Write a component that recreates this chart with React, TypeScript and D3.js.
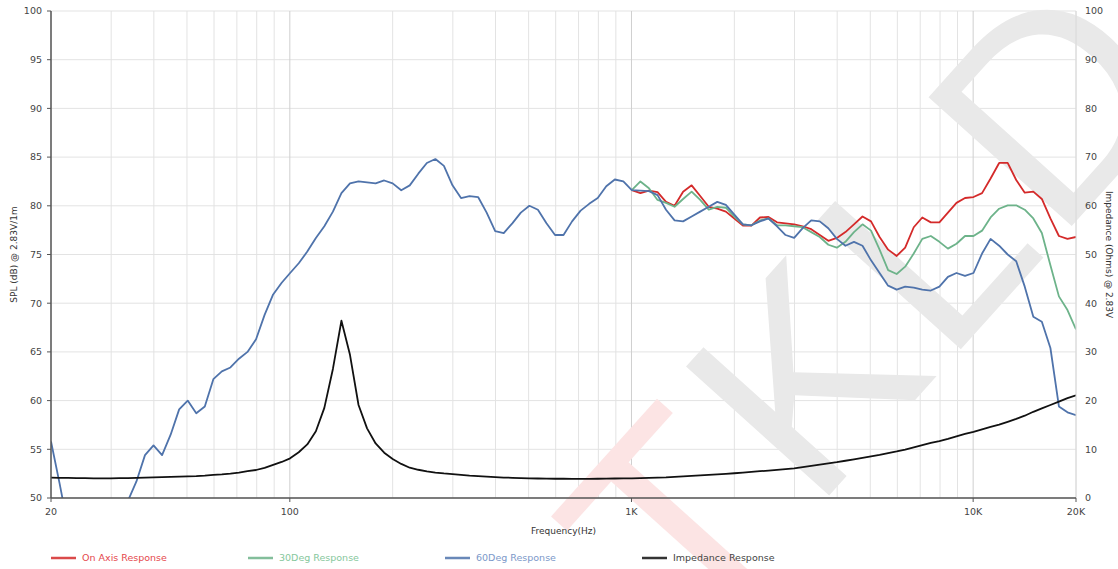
import * as d3 from "d3";

// 1/40-decade measurement points, 20 Hz .. 20 kHz
const freqs = [
  20, 21.19, 22.44, 23.77, 25.18, 26.67, 28.25, 29.93, 31.7, 33.58,
  35.57, 37.68, 39.91, 42.28, 44.79, 47.44, 50.25, 53.23, 56.39, 59.73,
  63.25, 67.01, 70.98, 75.19, 79.65, 84.37, 89.37, 94.67, 100.2, 106.2,
  112.5, 119.2, 126.2, 133.7, 141.6, 150, 158.9, 168.3, 178.3, 188.9,
  200, 211.9, 224.4, 237.7, 251.8, 266.7, 282.5, 299.3, 317, 335.8,
  355.7, 376.8, 399.1, 422.8, 447.9, 474.4, 502.5, 532.3, 563.9, 597.3,
  632.5, 670.1, 709.8, 751.9, 796.5, 843.7, 893.7, 946.7, 1002, 1062,
  1125, 1192, 1262, 1337, 1416, 1500, 1589, 1683, 1783, 1889,
  2000, 2119, 2244, 2377, 2518, 2667, 2825, 2993, 3170, 3358,
  3557, 3768, 3991, 4228, 4479, 4744, 5025, 5323, 5639, 5973,
  6325, 6701, 7098, 7519, 7965, 8437, 8937, 9467, 10024, 10619,
  11247, 11915, 12619, 13368, 14159, 15000, 15887, 16832, 17825, 18884,
  20000,
];

// on-axis and 30deg are only drawn from ~1 kHz (index 68) upward
const offAxisStart = 68;

const onAxis = [
  81.6, 81.3, 81.55, 81.4, 80.4, 80.0, 81.45, 82.1, 81.0, 79.9,
  79.7, 79.4, 78.7, 77.96, 77.96, 78.8, 78.85, 78.3, 78.2, 78.1,
  77.9, 77.6, 77.0, 76.4, 76.7, 77.3, 78.1, 78.9, 78.4, 76.8,
  75.5, 74.85, 75.7, 77.8, 78.8, 78.3, 78.3, 79.3, 80.3, 80.8,
  80.9, 81.3, 82.8, 84.4, 84.4, 82.65, 81.35, 81.45, 80.7, 78.7,
  76.9, 76.6, 76.8,
];

const deg30 = [
  81.6, 82.5, 81.8, 80.6, 80.3, 79.9, 80.7, 81.45, 80.6, 79.6,
  79.9, 79.8, 78.9, 78.1, 78.0, 78.5, 78.7, 78.0, 78.0, 77.9,
  77.8, 77.3, 76.8, 76.0, 75.7, 76.3, 77.3, 78.1, 77.45, 75.5,
  73.4, 73.0, 73.75, 75.1, 76.6, 76.9, 76.3, 75.6, 76.1, 76.9,
  76.9, 77.45, 78.8, 79.7, 80.05, 80.05, 79.6, 78.7, 77.2, 73.9,
  70.7, 69.3, 67.3,
];

const deg60 = [
  55.8, 51.5, 47.0, 45.0, 44.0, 43.5, 44.0, 45.5, 47.5, 49.7,
  51.7, 54.4, 55.4, 54.4, 56.5, 59.1, 60.0, 58.7, 59.4, 62.2,
  63.0, 63.4, 64.3, 65.0, 66.3, 68.8, 70.9, 72.1, 73.1, 74.1,
  75.3, 76.7, 77.9, 79.4, 81.3, 82.3, 82.5, 82.4, 82.3, 82.6,
  82.3, 81.6, 82.1, 83.3, 84.4, 84.8, 84.1, 82.1, 80.8, 81.0,
  80.9, 79.3, 77.4, 77.2, 78.2, 79.3, 80.0, 79.6, 78.2, 77.0,
  77.0, 78.4, 79.5, 80.2, 80.8, 82.0, 82.7, 82.5, 81.6, 81.55,
  81.5, 81.1, 79.6, 78.5, 78.4, 78.9, 79.4, 79.9, 80.4, 80.1,
  79.1, 78.1, 78.0, 78.4, 78.7, 77.9, 77.0, 76.7, 77.7, 78.5,
  78.4, 77.7, 76.6, 75.9, 76.3, 75.9, 74.4, 73.1, 71.8, 71.4,
  71.7, 71.6, 71.4, 71.3, 71.7, 72.7, 73.1, 72.8, 73.1, 75.1,
  76.6, 75.9, 75.0, 74.3, 71.7, 68.6, 68.1, 65.4, 59.4, 58.8,
  58.5,
];

const impedance = [
  4.2, 4.15, 4.15, 4.1, 4.1, 4.05, 4.05, 4.05, 4.1, 4.1,
  4.15, 4.2, 4.25, 4.3, 4.35, 4.4, 4.45, 4.5, 4.6, 4.75,
  4.85, 5.0, 5.2, 5.5, 5.75, 6.2, 6.8, 7.4, 8.15, 9.4,
  11.0, 13.7, 18.5, 26.5, 36.4, 29.4, 19.1, 14.3, 11.2, 9.3,
  8.0, 7.0, 6.22, 5.8, 5.45, 5.22, 5.05, 4.92, 4.75, 4.6,
  4.5, 4.4, 4.3, 4.2, 4.15, 4.1, 4.05, 4.0, 3.98, 3.95,
  3.95, 3.93, 3.93, 3.93, 3.95, 3.97, 4.0, 4.02, 4.05, 4.1,
  4.15, 4.2, 4.25, 4.35, 4.45, 4.55, 4.65, 4.75, 4.85, 4.95,
  5.08, 5.22, 5.36, 5.5, 5.64, 5.78, 5.93, 6.1, 6.35, 6.6,
  6.85, 7.1, 7.35, 7.65, 7.95, 8.25, 8.55, 8.85, 9.2, 9.55,
  9.95, 10.4, 10.85, 11.3, 11.7, 12.15, 12.65, 13.15, 13.6, 14.1,
  14.6, 15.05, 15.65, 16.25, 16.9, 17.7, 18.4, 19.1, 19.8, 20.5,
  21.1,
];

const xTickValues = [20, 100, 1000, 10000, 20000];
const xTickLabels = ["20", "100", "1K", "10K", "20K"];
const splTicks = [50, 55, 60, 65, 70, 75, 80, 85, 90, 95, 100];
const impTicks = [0, 10, 20, 30, 40, 50, 60, 70, 80, 90, 100];

const legendNames = ["On Axis Response", "30Deg Response", "60Deg Response", "Impedance Response"];
const lineColors = ["#d42a2a", "#6db38a", "#4f73ab", "#111111"];
const legendText = ["#e5484d", "#86c79c", "#7b98c9", "#444444"];

const W = 1118, H = 569;
const L = 51, R = 1076, T = 11, B = 498;
const font = "'DejaVu Sans', Verdana, sans-serif";

export default function App() {
  const x = d3.scaleLog().domain([20, 20000]).range([L, R]);
  const ySpl = d3.scaleLinear().domain([50, 100]).range([B, T]);
  const yImp = d3.scaleLinear().domain([0, 100]).range([B, T]);

  const splLine = d3.line<[number, number]>()
    .x(d => x(d[0]))
    .y(d => ySpl(d[1]));
  const impLine = d3.line<[number, number]>()
    .x(d => x(d[0]))
    .y(d => yImp(d[1]));

  const pairs = (vals: number[], start: number) =>
    vals.map((v, i) => [freqs[start + i], v] as [number, number]);

  const series = [
    splLine(pairs(onAxis, offAxisStart)),
    splLine(pairs(deg30, offAxisStart)),
    splLine(pairs(deg60, 0)),
    impLine(pairs(impedance, 0)),
  ];

  const gridFreqs = x.ticks();
  const isDecade = (f: number) => [100, 1000, 10000].includes(f);

  return (
    <svg width={W} height={H} style={{ position: "absolute", left: 0, top: 0, background: "#fff" }} fontFamily={font}>
      <defs>
        <clipPath id="plot">
          <rect x={L} y={T} width={R - L} height={B - T} />
        </clipPath>
      </defs>

      {/* grid */}
      {splTicks.map(t => (
        <line key={"h" + t} x1={L} x2={R} y1={ySpl(t)} y2={ySpl(t)} stroke="#e3e3e3" strokeWidth={1} />
      ))}
      {gridFreqs.map(f => (
        <line key={"v" + f} x1={x(f)} x2={x(f)} y1={T} y2={B}
          stroke={isDecade(f) ? "#cfcfcf" : "#e3e3e3"} strokeWidth={1} />
      ))}

      {/* watermark */}
      <g transform="translate(690,650) rotate(-48)" fontFamily="'Liberation Sans', Arial, sans-serif" fontSize={280}>
        <text fill="#fce4e4">T</text>
        <text x={185} fill="#e9e9e9" letterSpacing={10}>KLD</text>
      </g>

      {/* series */}
      <g clipPath="url(#plot)" fill="none" strokeWidth={1.8} strokeLinejoin="round">
        {series.map((d, i) => (
          <path key={i} d={d ?? ""} stroke={lineColors[i]} />
        ))}
      </g>

      {/* axes */}
      <line x1={L} x2={L} y1={T} y2={B} stroke="#555" strokeWidth={1.5} />
      <line x1={R} x2={R} y1={T} y2={B} stroke="#d8d8d8" strokeWidth={1} />
      <line x1={L} x2={R} y1={B} y2={B} stroke="#555" strokeWidth={1.5} />

      {splTicks.map(t => (
        <g key={"ls" + t}>
          <line x1={L - 4} x2={L} y1={ySpl(t)} y2={ySpl(t)} stroke="#555" />
          <text x={L - 9} y={ySpl(t)} dy="0.35em" textAnchor="end" fontSize={9.5} fill="#444">{t}</text>
        </g>
      ))}
      {impTicks.map(t => (
        <text key={"ri" + t} x={R + 9} y={yImp(t)} dy="0.35em" textAnchor="start" fontSize={9.5} fill="#444">{t}</text>
      ))}
      {xTickValues.map((f, i) => (
        <g key={"xt" + f}>
          <line x1={x(f)} x2={x(f)} y1={B} y2={B + 4} stroke="#555" />
          <text x={x(f)} y={B + 17} textAnchor="middle" fontSize={9.5} fill="#444">{xTickLabels[i]}</text>
        </g>
      ))}

      <text x={(L + R) / 2} y={534} textAnchor="middle" fontSize={9} fill="#333">Frequency(Hz)</text>
      <text transform={`translate(17,${(T + B) / 2}) rotate(-90)`} textAnchor="middle" fontSize={9} fill="#333">SPL (dB) @ 2.83V/1m</text>
      <text transform={`translate(1106,${(T + B) / 2}) rotate(90)`} textAnchor="middle" fontSize={9} fill="#333">Impedance (Ohms) @ 2.83V</text>

      {/* legend */}
      {legendNames.map((name, i) => {
        const lx = 51 + i * 197;
        return (
          <g key={name}>
            <line x1={lx} x2={lx + 25} y1={558} y2={558} stroke={lineColors[i]} strokeWidth={2.5} strokeOpacity={0.85} />
            <text x={lx + 31} y={558} dy="0.35em" fontSize={9.5} fill={legendText[i]}>{name}</text>
          </g>
        );
      })}
    </svg>
  );
}
